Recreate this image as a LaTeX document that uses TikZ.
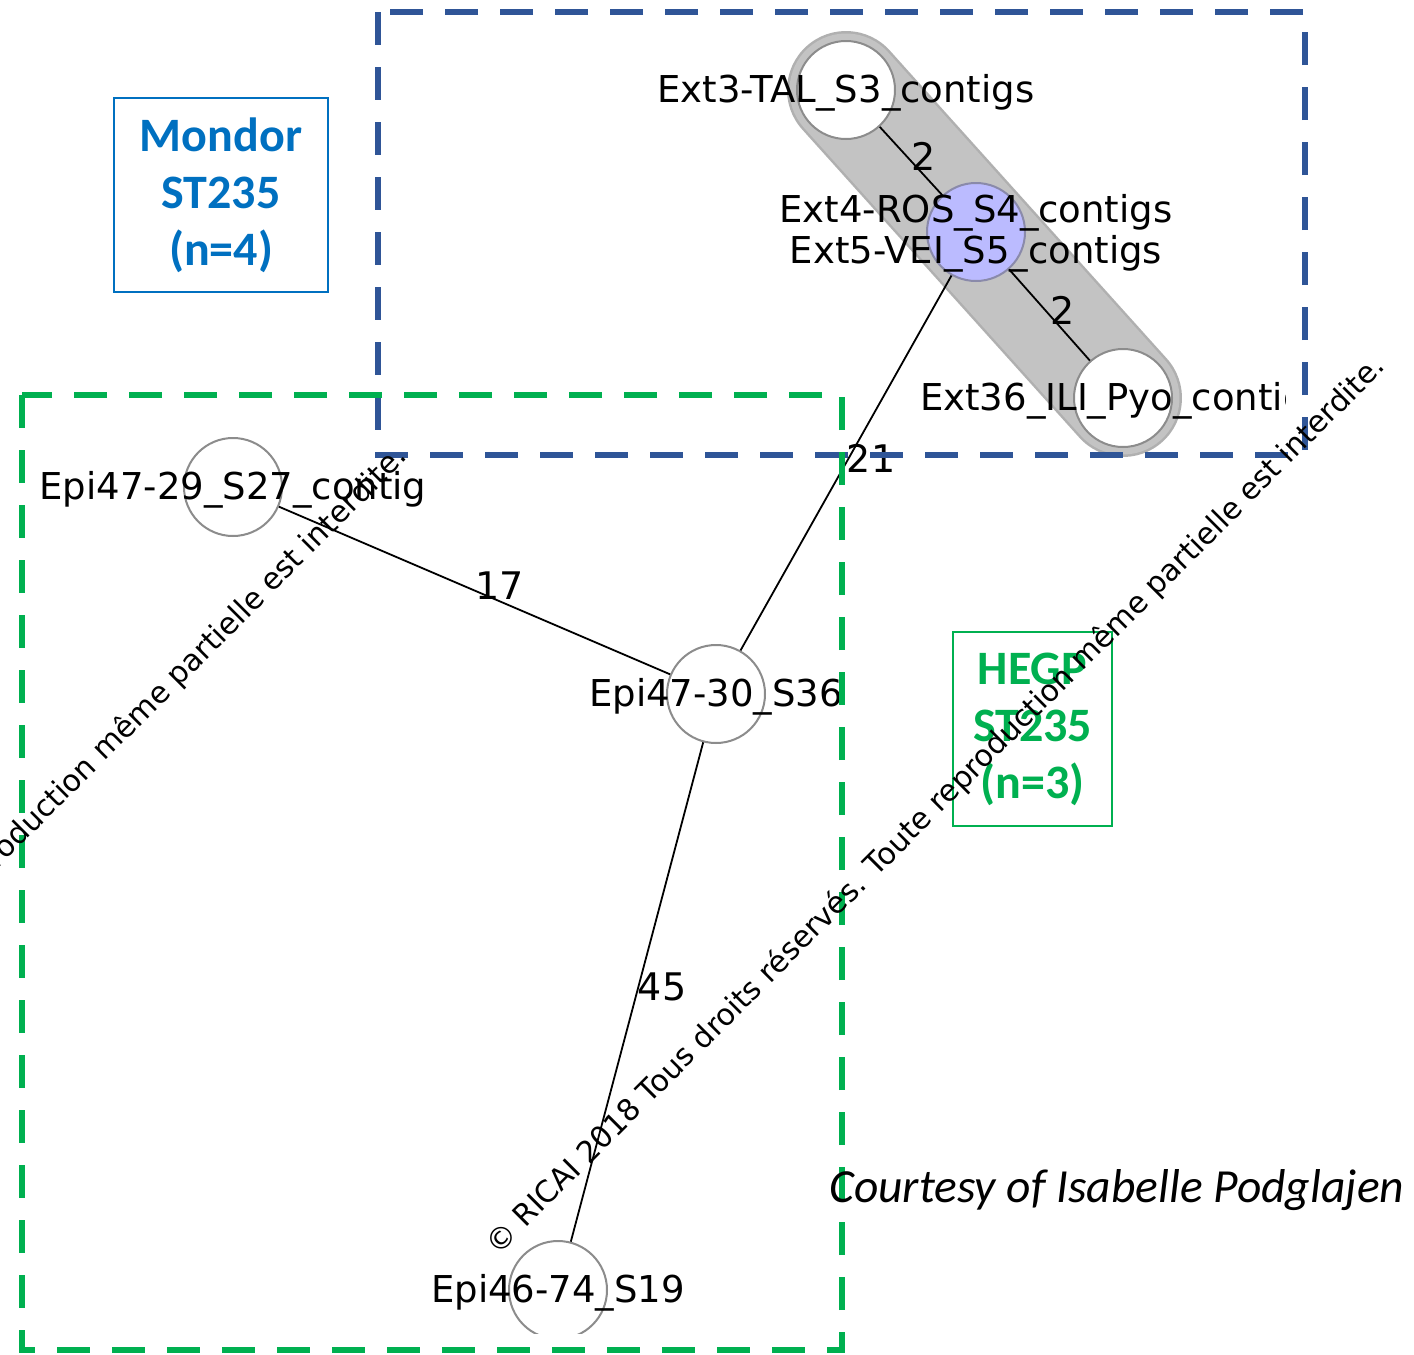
\documentclass[tikz,border=0pt]{standalone}
\usepackage{fontspec}
\newfontfamily\graphfont{DejaVu Sans}
\newfontfamily\calfont{Carlito}
\definecolor{zoneblue}{HTML}{2F5597}
\definecolor{zonegreen}{HTML}{00B050}
\definecolor{tagblue}{HTML}{0070C0}
\definecolor{ringgray}{HTML}{8C8C8C}
\definecolor{hullfill}{HTML}{C3C3C3}
\definecolor{hulledge}{HTML}{B0B0B0}
\definecolor{pickfill}{HTML}{BBBBFF}
\definecolor{pickring}{HTML}{8A8AAA}
\tikzset{
  vertex/.style={circle, minimum size=98pt, inner sep=0pt, draw=ringgray, line width=2pt, fill=white},
  vlabel/.style={font=\graphfont\fontsize{37}{41}\selectfont, inner sep=0pt, align=center},
  elabel/.style={font=\graphfont\fontsize{38}{40}\selectfont, inner sep=0pt, anchor=west, yshift=5pt},
  link/.style={line width=1.8pt, black},
  zone/.style={line width=6pt, dash pattern=on 33pt off 22pt},
  tag/.style={line width=1.6pt, inner sep=0pt, align=center,
              font=\calfont\bfseries\fontsize{48}{57}\selectfont},
  stamp/.style={rotate=45, inner sep=0pt, font=\graphfont\fontsize{30}{32}\selectfont}
}
\begin{document}
\begin{tikzpicture}[x=1pt,y=-1pt]
\useasboundingbox (0,0) rectangle (1414,1355);
\clip (0,0) rectangle (1414,1355);
\fill[white] (0,0) rectangle (1414,1355);

% network view
\begin{scope}
\clip (0,0) rectangle (1285,1333);
\coordinate (h1) at (846,90);
\coordinate (h2) at (1123,398);
% cluster hull
\draw[hulledge, line width=118pt, line cap=round] (h1) -- (h2);
\draw[hullfill, line width=113pt, line cap=round] (h1) -- (h2);

\node[vertex] (ext3) at (h1) {};
\node[vertex, fill=pickfill, draw=pickring] (ext45) at (976,232) {};
\node[vertex] (ext36) at (h2) {};
\node[vertex] (epi29) at (233,487) {};
\node[vertex] (epi30) at (716,694) {};
\node[vertex] (epi74) at (558,1290) {};

\draw[link] (ext3) -- node[elabel] (w1) {2} (ext45);
\draw[link] (ext45) -- node[elabel] (w2) {2} (ext36);
\draw[link] (ext45) -- node[elabel] (w3) {21} (epi30);
\draw[link] (epi29) -- node[elabel] (w4) {17} (epi30);
\draw[link] (epi30) -- node[elabel] (w5) {45} (epi74);

\node[vlabel] (ext3-t) at ([yshift=-3pt]ext3.center) {Ext3-TAL\_S3\_contigs};
\node[vlabel] (ext45-t) at ([yshift=-1pt]ext45.center) {Ext4-ROS\_S4\_contigs\\Ext5-VEI\_S5\_contigs};
\node[vlabel] (ext36-t) at ([yshift=-3pt]ext36.center) {Ext36\_ILI\_Pyo\_contigs};
\node[vlabel] (epi29-t) at ([yshift=-3pt]epi29.center) {Epi47-29\_S27\_contig};
\node[vlabel] (epi30-t) at ([yshift=-3pt]epi30.center) {Epi47-30\_S36};
\node[vlabel] (epi74-t) at ([yshift=-3pt]epi74.center) {Epi46-74\_S19};
\end{scope}

% site groupings
\draw[zone, zoneblue] (378,12) rectangle (1305,455);
\draw[zone, zonegreen] (22,395) rectangle (842,1350);

\node[tag, draw=tagblue, text=tagblue, minimum width=214pt, minimum height=194pt] (mondor) at (221,195) {Mondor\\ST235\\(n=4)};
\node[tag, draw=zonegreen, text=zonegreen, minimum width=159pt, minimum height=194pt] (hegp) at (1032.5,729) {HEGP\\ST235\\(n=3)};

\node[anchor=base west, inner sep=0pt, font=\calfont\itshape\fontsize{47.5}{50}\selectfont] (credit) at (829,1202) {Courtesy of Isabelle Podglajen};

% copyright lines
\node[stamp] (wm1) at (936,806) {© RICAI 2018 Tous droits réservés. Toute reproduction même partielle est interdite.};
\node[stamp] (wm2) at (-42,896) {© RICAI 2018 Tous droits réservés. Toute reproduction même partielle est interdite.};
\end{tikzpicture}
\end{document}
